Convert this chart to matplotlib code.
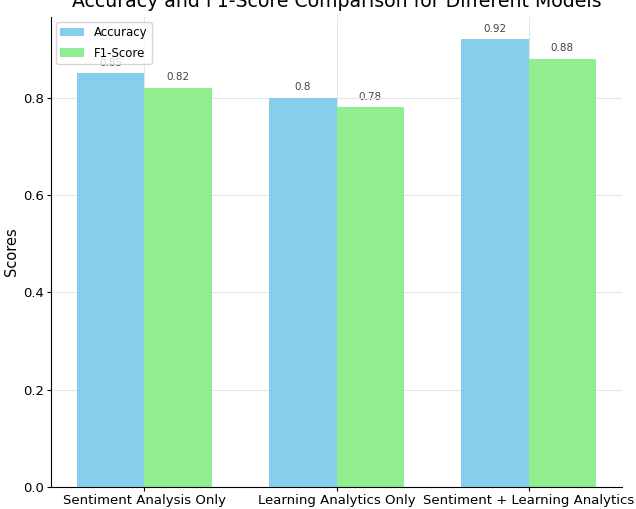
import numpy as np
import matplotlib
matplotlib.use("Agg")
import matplotlib.pyplot as plt

models = ["Sentiment Analysis Only", "Learning Analytics Only", "Sentiment + Learning Analytics"]
accuracy = [0.85, 0.80, 0.92]
f1_score = [0.82, 0.78, 0.88]


def main():
    x = np.arange(len(models))
    width = 0.35

    fig = plt.figure(figsize=(6.36, 5.09), dpi=100)
    ax = fig.add_axes([51 / 636, 22 / 509, 571 / 636, 470 / 509])

    bars1 = ax.bar(x - width / 2, accuracy, width, label="Accuracy", color="skyblue", zorder=2)
    bars2 = ax.bar(x + width / 2, f1_score, width, label="F1-Score", color="lightgreen", zorder=2)

    for bars in (bars1, bars2):
        for b in bars:
            ax.text(b.get_x() + b.get_width() / 2, b.get_height() + 0.012,
                    f"{b.get_height():g}", ha="center", va="bottom",
                    fontsize=7.5, color="#444444", zorder=1)

    ax.set_ylabel("Scores", fontsize=10.5, labelpad=3)
    # title sits partly above the canvas, as in the reference crop
    ax.set_title("Accuracy and F1-Score Comparison for Different Models", fontsize=13.6, pad=7.5)
    ax.set_xticks(x)
    ax.set_xticklabels(models, fontsize=9.5)
    ax.tick_params(axis="x", length=3, pad=2)
    ax.tick_params(axis="y", labelsize=9.5, length=3, pad=2)
    ax.set_ylim(0, 0.966)
    ax.grid(True, color="#e6e6e6", linewidth=0.8, zorder=0)
    for s in ("top", "right"):
        ax.spines[s].set_visible(False)
    ax.legend(loc="upper left", fontsize=8.5, framealpha=0.8,
              borderaxespad=0.4, labelspacing=0.6)

    fig.savefig("out.png", dpi=100)


if __name__ == "__main__":
    main()
